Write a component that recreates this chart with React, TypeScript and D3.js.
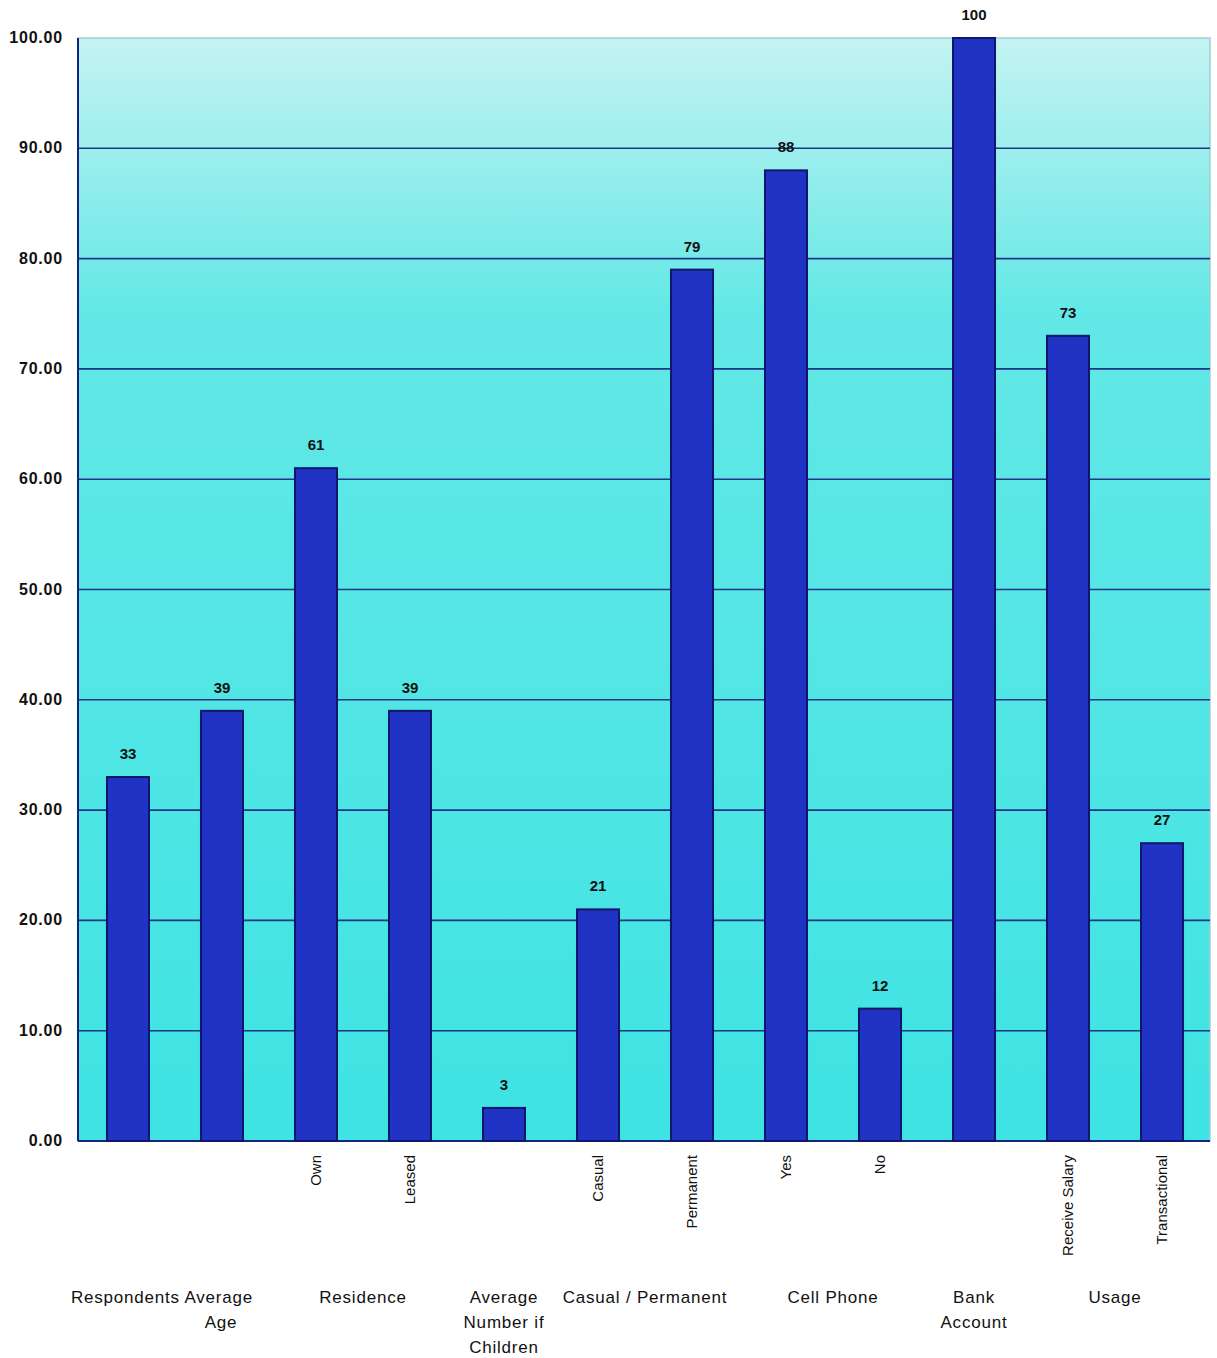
import React from "react";
import * as d3 from "d3";

const barLabels = ["", "", "Own", "Leased", "", "Casual", "Permanent", "Yes", "No", "", "Receive Salary", "Transactional"];
const barValues = [33, 39, 61, 39, 3, 21, 79, 88, 12, 100, 73, 27];
const groupNames = [["Respondents Average", "Age"], ["Residence"], ["Average", "Number if", "Children"], ["Casual / Permanent"], ["Cell Phone"], ["Bank", "Account"], ["Usage"]];
const groupSpans = [[0, 1], [2, 3], [4, 4], [5, 6], [7, 8], [9, 9], [10, 11]];
const yTicks = [0, 10, 20, 30, 40, 50, 60, 70, 80, 90, 100];

export default function App() {
  const W = 1217, H = 1358;
  const m = { left: 78, right: 7, top: 38, bottom: 217 };
  const x = d3.scaleBand<number>().domain(d3.range(barValues.length)).range([80, W - m.right]).paddingInner(0.553).paddingOuter(0.287);
  const y = d3.scaleLinear().domain([0, 100]).range([H - m.bottom, m.top]);
  const cx = (i: number) => (x(i) as number) + x.bandwidth() / 2;
  const font = "'Liberation Sans', Arial, sans-serif";
  return (
    <svg width={W} height={H} style={{ position: "absolute", left: 0, top: 0 }}>
      <defs>
        <linearGradient id="bg" x1="0" y1="0" x2="0" y2="1">
          <stop offset="0" stopColor="#c4f3f2" />
          <stop offset="0.25" stopColor="#62e8e6" />
          <stop offset="1" stopColor="#3ee3e3" />
        </linearGradient>
      </defs>
      <rect x={0} y={0} width={W} height={H} fill="#ffffff" />
      <rect x={m.left} y={m.top} width={W - m.left - m.right} height={y(0) - m.top} fill="url(#bg)" stroke="#9fcfd3" strokeWidth={1.5} />
      {yTicks.map((t) => (
        <g key={t}>
          {t > 0 && t < 100 && (
            <line x1={m.left} x2={W - m.right} y1={y(t)} y2={y(t)} stroke="#1d3487" strokeWidth={1.6} />
          )}
          <text x={63} y={y(t) + 5} textAnchor="end" fontFamily={font} fontSize={16} fontWeight="bold" letterSpacing={0.8} fill="#111">
            {t.toFixed(2)}
          </text>
        </g>
      ))}
      <line x1={m.left} x2={m.left} y1={m.top} y2={y(0)} stroke="#15237a" strokeWidth={2} />
      <line x1={m.left} x2={W - m.right} y1={y(0)} y2={y(0)} stroke="#15237a" strokeWidth={2} />
      {barValues.map((v, i) => (
        <g key={i}>
          <rect x={x(i)} y={y(v)} width={x.bandwidth()} height={y(0) - y(v)} fill="#2033c4" stroke="#0f1868" strokeWidth={2} />
          <text x={cx(i)} y={y(v) - 18} textAnchor="middle" fontFamily={font} fontSize={15} fontWeight="bold" fill="#111">
            {v}
          </text>
          {barLabels[i] && (
            <text transform={`translate(${cx(i) + 5},${y(0) + 14}) rotate(-90)`} textAnchor="end" fontFamily={font} fontSize={15} fill="#111">
              {barLabels[i]}
            </text>
          )}
        </g>
      ))}
      {groupNames.map((lines, g) => {
        const [a, b] = groupSpans[g];
        const c = (cx(a) + cx(b)) / 2;
        return (
          <text key={g} textAnchor="middle" fontFamily={font} fontSize={17} fill="#111" letterSpacing={0.8}>
            {lines.map((l, k) => (
              <tspan key={k} x={g === 0 && k === 1 ? c + 46 : c - (g === 0 ? 13 : 0)} y={1303 + k * 25}>
                {l}
              </tspan>
            ))}
          </text>
        );
      })}
    </svg>
  );
}
